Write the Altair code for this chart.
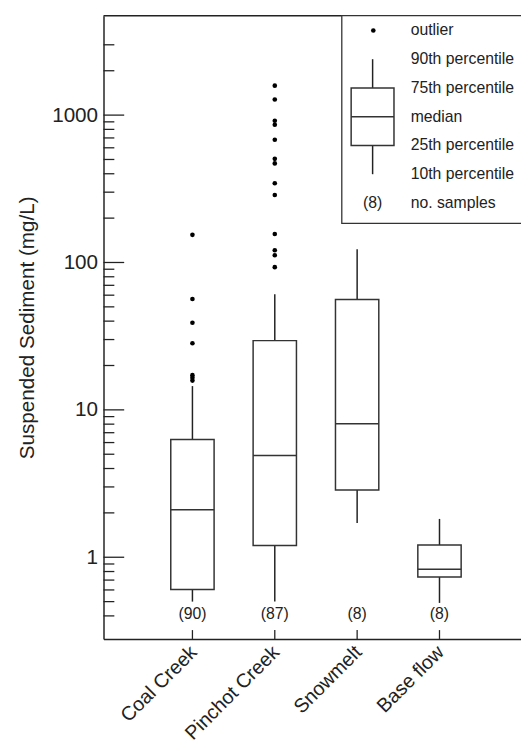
import altair as alt
import pandas as pd

# ---------------- data ----------------
categories = ["Coal Creek", "Pinchot Creek", "Snowmelt", "Base flow"]
positions = [1, 2, 3, 4]
p10 = [0.50, 0.50, 1.71, 0.49]
p25 = [0.605, 1.20, 2.86, 0.735]
p50 = [2.10, 4.90, 8.06, 0.83]
p75 = [6.30, 29.5, 56.0, 1.21]
p90 = [14.5, 61.0, 123.0, 1.82]
n_samples = [90, 87, 8, 8]

outliers_coal = [154, 56.5, 39.0, 28.3, 17.2, 16.5, 15.8]
outliers_pinchot = [1585, 1277, 915, 860, 680, 505, 470, 345, 287, 156, 121, 112, 93]

y_major = [1, 10, 100, 1000]
y_minor = [0.4, 0.5, 0.6, 0.7, 0.8, 0.9,
           2, 3, 4, 5, 6, 7, 8, 9,
           20, 30, 40, 50, 60, 70, 80, 90,
           200, 300, 400, 500, 600, 700, 800, 900,
           2000, 3000]

legend_labels = ["outlier", "90th percentile", "75th percentile", "median",
                 "25th percentile", "10th percentile", "no. samples"]
legend_count = "(8)"
y_title = "Suspended Sediment (mg/L)"

# ---------------- layout ----------------
W, H = 424, 633
FONT = "Liberation Sans"
INK = "#222222"
BOXC = "#333333"

box_df = pd.DataFrame({
    "pos": positions, "cat": categories,
    "p10": p10, "p25": p25, "p50": p50, "p75": p75, "p90": p90,
    "n": [f"({n})" for n in n_samples],
})
out_df = pd.DataFrame({
    "pos": [1] * len(outliers_coal) + [2] * len(outliers_pinchot),
    "value": outliers_coal + outliers_pinchot,
})
major_df = pd.DataFrame({"v": y_major})
minor_df = pd.DataFrame({"v": y_minor})
one = pd.DataFrame({"a": [0]})

label_expr = "[" + ",".join("'" + c + "'" for c in categories) + "][datum.value - 1]"

xscale = alt.Scale(domain=[-0.02, 4.93], nice=False, zero=False)
yscale = alt.Scale(type="log", domain=[0.279, 4728], nice=False)

xaxis = alt.Axis(values=positions, labelExpr=label_expr, labelAngle=315,
                 labelAlign="right", labelBaseline="middle", labelPadding=10,
                 labelOffset=1, labelOverlap=False, labelBound=False,
                 labelFontSize=20, labelFlush=False, labelColor=INK,
                 ticks=False, tickSize=0, grid=False, title=None,
                 domainColor=INK, domainWidth=1.5)
yaxis = alt.Axis(values=y_major, format="d", labelFontSize=21, labelPadding=6,
                 labelOverlap=False, labelColor=INK, ticks=False, tickSize=0, grid=False,
                 title=y_title, titleFontSize=21, titleFontWeight="normal",
                 titleColor=INK, titlePadding=14, domainColor=INK, domainWidth=1.5)

X = lambda f: alt.X(f, scale=xscale, axis=xaxis)
Y = lambda f: alt.Y(f, scale=yscale, axis=yaxis)

whiskers = alt.Chart(box_df).mark_rule(color=INK, strokeWidth=1.5).encode(
    x=X("pos:Q"), y=Y("p10:Q"), y2="p90:Q")
boxes = alt.Chart(box_df).mark_bar(size=44, orient="vertical", fill="white",
                                   stroke=BOXC, strokeWidth=1.5).encode(
    x=X("pos:Q"), y=Y("p25:Q"), y2="p75:Q")
medians = alt.Chart(box_df).mark_tick(orient="horizontal", size=44, thickness=1.5,
                                      color=BOXC, opacity=1).encode(
    x=X("pos:Q"), y=Y("p50:Q"))
outl = alt.Chart(out_df).mark_circle(size=22, color="black", opacity=1).encode(
    x=X("pos:Q"), y=Y("value:Q"))
counts = alt.Chart(box_df).mark_text(fontSize=16, color=INK, baseline="middle").encode(
    x=X("pos:Q"), y=alt.value(608), text="n:N")

# inward ticks
yt_major = alt.Chart(major_df).mark_rule(color=INK, strokeWidth=1.3).encode(
    y=Y("v:Q"), x=alt.value(0), x2=alt.value(21))
yt_minor = alt.Chart(minor_df).mark_rule(color=INK, strokeWidth=1.3).encode(
    y=Y("v:Q"), x=alt.value(0), x2=alt.value(11))
xt = alt.Chart(box_df).mark_rule(color=INK, strokeWidth=1.3).encode(
    x=X("pos:Q"), y=alt.value(H), y2=alt.value(H - 9))
top_line = alt.Chart(one).mark_rule(color=INK, strokeWidth=1.5).encode(
    x=alt.value(0), x2=alt.value(W), y=alt.value(0))

# legend
row_y = [15 + 29.2 * i for i in range(len(legend_labels))]
lx0, lx1, lxc = 251.5, 295, 273.3
legend_layers = [
    alt.Chart(one).mark_rect(fill="white", stroke=BOXC, strokeWidth=1.3).encode(
        x=alt.value(242), x2=alt.value(W + 10), y=alt.value(0), y2=alt.value(211)),
    alt.Chart(one).mark_rule(color=INK, strokeWidth=1.5).encode(
        x=alt.value(lxc), y=alt.value(row_y[1]), y2=alt.value(row_y[5])),
    alt.Chart(one).mark_rect(fill="white", stroke=BOXC, strokeWidth=1.5).encode(
        x=alt.value(lx0), x2=alt.value(lx1), y=alt.value(row_y[2]), y2=alt.value(row_y[4])),
    alt.Chart(one).mark_rule(color=BOXC, strokeWidth=1.5).encode(
        x=alt.value(lx0), x2=alt.value(lx1), y=alt.value(row_y[3])),
    alt.Chart(one).mark_circle(size=22, color="black", opacity=1).encode(
        x=alt.value(lxc + 0.7), y=alt.value(row_y[0])),
    alt.Chart(one).mark_text(fontSize=16, color=INK, baseline="middle").encode(
        x=alt.value(lxc), y=alt.value(row_y[6]), text=alt.value(legend_count)),
]
for lab, yy in zip(legend_labels, row_y):
    legend_layers.append(
        alt.Chart(one).mark_text(fontSize=16, color=INK, align="left", baseline="middle").encode(
            x=alt.value(312), y=alt.value(yy), text=alt.value(lab)))

chart = alt.layer(
    whiskers, boxes, medians, outl, counts, yt_major, yt_minor, xt, top_line,
    *legend_layers
).properties(
    width=W, height=H,
    padding={"left": 97, "top": 2, "right": 0, "bottom": 108},
    autosize=alt.AutoSizeParams(type="none"),
).configure(font=FONT, background="white").configure_view(stroke=None)

chart.save("out.html", embed_options={"renderer": "svg", "actions": False})
